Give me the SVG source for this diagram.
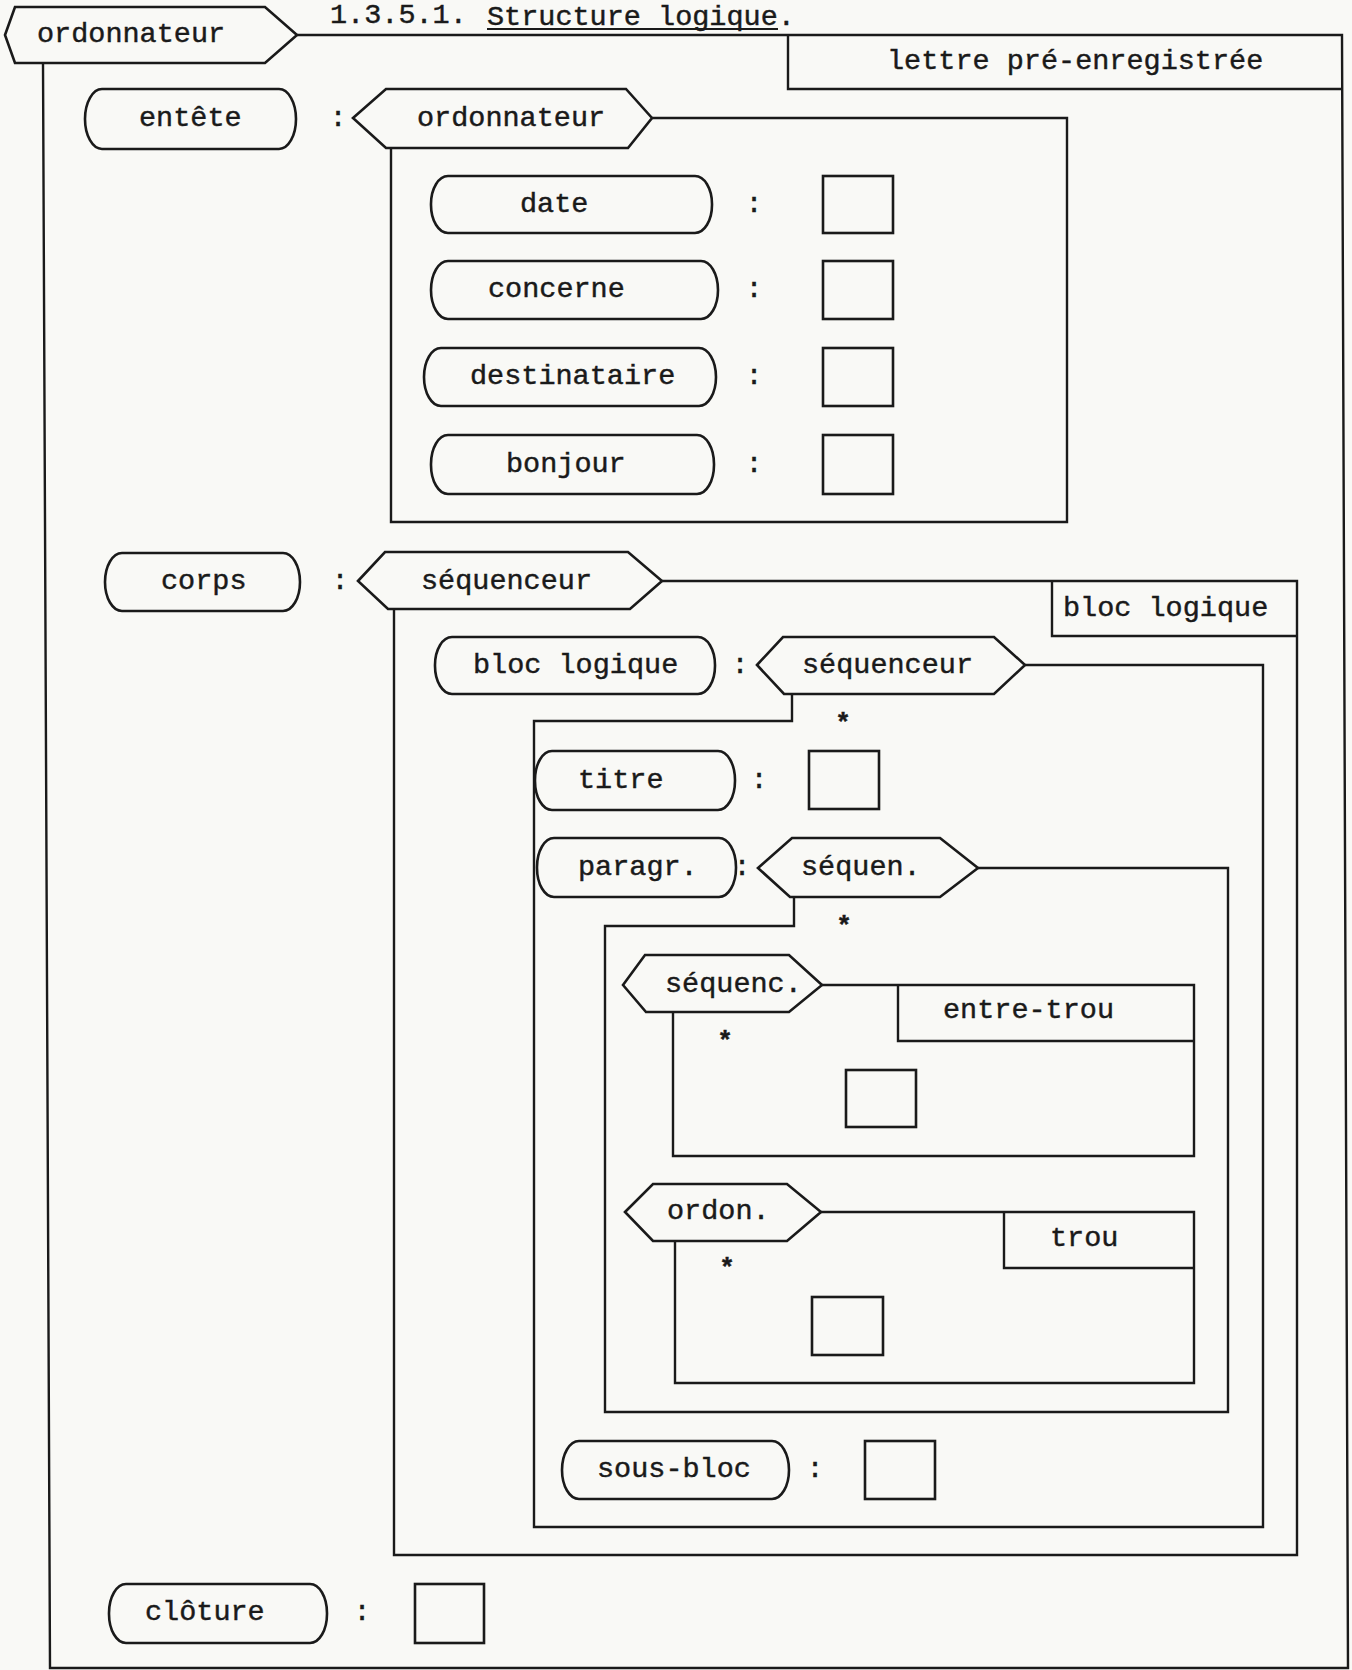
<svg xmlns="http://www.w3.org/2000/svg" width="1352" height="1670" viewBox="0 0 1352 1670">
<style>
text{font-family:"Liberation Mono","Courier New",monospace;font-size:28.5px;fill:#1a1a1a;stroke:#1a1a1a;stroke-width:0.45}
.ast{font-size:26px;font-weight:bold;text-anchor:middle}
.c{text-anchor:middle}
.s{fill:none;stroke:#1a1a1a;stroke-width:2.4;stroke-linejoin:miter}
.n{fill:none;stroke:#1a1a1a;stroke-width:2.6}
</style>
<rect width="1352" height="1670" fill="#f9f9f6"/>
<g id="title">
<text x="330" y="23">1.3.5.1.</text>
<text x="487" y="25">Structure logique.</text>
<line x1="487" y1="29" x2="778" y2="29" stroke="#1a1a1a" stroke-width="1.8"/>
</g>
<g id="connectors">
<path class="s" d="M297,35 H1342 L1348,1668 H50 L43,63"/>
<path class="s" d="M652,118 H1067 V522 H391 V148"/>
<path class="s" d="M662,581 H1297 V1555 H394 V609"/>
<path class="s" d="M1025,665 H1263 V1527 H534 V721 H792 V694"/>
<path class="s" d="M978,868 H1228 V1412 H605 V926 H794 V897"/>
<path class="s" d="M822,985 H1194 V1156 H673 V1012"/>
<path class="s" d="M821,1212 H1194 V1383 H675 V1241"/>
</g>
<g id="n-root">
<polygon class="n" points="5,35 15,7 265,7 297,35 265,63 15,63"/>
<text x="37" y="42">ordonnateur</text>
</g>
<g id="n-lettre">
<path class="s" d="M788,35 V89 H1342"/>
<text x="887" y="69">lettre pré-enregistrée</text>
</g>
<g id="n-entete">
<rect class="n" x="85" y="89" width="211" height="60" rx="17" ry="30"/>
<text x="139" y="126">entête</text>
<text class="c" x="338" y="126">:</text>
</g>
<g id="n-ordo2">
<polygon class="n" points="353,118 386,89 626,89 652,118 628,148 386,148"/>
<text x="417" y="126">ordonnateur</text>
</g>
<g id="n-date">
<rect class="n" x="431" y="176" width="281" height="57" rx="17" ry="28"/>
<text x="520" y="212">date</text>
<text class="c" x="754" y="212">:</text>
<rect class="n" x="823" y="176" width="70" height="57"/>
</g>
<g id="n-concerne">
<rect class="n" x="431" y="261" width="287" height="58" rx="17" ry="29"/>
<text x="488" y="297">concerne</text>
<text class="c" x="754" y="297">:</text>
<rect class="n" x="823" y="261" width="70" height="58"/>
</g>
<g id="n-destinataire">
<rect class="n" x="424" y="348" width="292" height="58" rx="17" ry="29"/>
<text x="470" y="384">destinataire</text>
<text class="c" x="754" y="384">:</text>
<rect class="n" x="823" y="348" width="70" height="58"/>
</g>
<g id="n-bonjour">
<rect class="n" x="431" y="435" width="283" height="59" rx="17" ry="29"/>
<text x="506" y="472">bonjour</text>
<text class="c" x="754" y="472">:</text>
<rect class="n" x="823" y="435" width="70" height="59"/>
</g>
<g id="n-corps">
<rect class="n" x="105" y="553" width="195" height="58" rx="17" ry="29"/>
<text x="161" y="589">corps</text>
<text class="c" x="340" y="589">:</text>
</g>
<g id="n-seq1">
<polygon class="n" points="358,581 385,552 628,552 662,581 630,609 388,609"/>
<text x="421" y="589">séquenceur</text>
</g>
<g id="n-bloclabel">
<path class="s" d="M1052,581 V636 H1297"/>
<text x="1063" y="616">bloc logique</text>
</g>
<g id="n-bloc">
<rect class="n" x="435" y="637" width="280" height="57" rx="17" ry="28"/>
<text x="473" y="673">bloc logique</text>
<text class="c" x="740" y="673">:</text>
</g>
<g id="n-seq2">
<polygon class="n" points="757,665 783,637 994,637 1025,665 994,694 784,694"/>
<text x="802" y="673">séquenceur</text>
<text class="ast" x="843" y="731">*</text>
</g>
<g id="n-titre">
<rect class="n" x="535" y="751" width="200" height="59" rx="17" ry="29"/>
<text x="578" y="788">titre</text>
<text class="c" x="759" y="788">:</text>
<rect class="n" x="809" y="751" width="70" height="58"/>
</g>
<g id="n-paragr">
<rect class="n" x="537" y="838" width="199" height="59" rx="17" ry="29"/>
<text x="578" y="875">paragr.</text>
<text class="c" x="742" y="875">:</text>
</g>
<g id="n-sequen">
<polygon class="n" points="758,868 792,838 940,838 978,868 940,897 790,897"/>
<text x="801" y="875">séquen.</text>
<text class="ast" x="844" y="934">*</text>
</g>
<g id="n-sequenc">
<polygon class="n" points="623,985 645,955 789,955 822,985 789,1012 646,1012"/>
<text x="665" y="992">séquenc.</text>
<text class="ast" x="725" y="1049">*</text>
<rect class="n" x="846" y="1070" width="70" height="57"/>
</g>
<g id="n-entretrou">
<path class="s" d="M898,985 V1041 H1194"/>
<text x="943" y="1018">entre-trou</text>
</g>
<g id="n-ordon">
<polygon class="n" points="625,1212 653,1184 787,1184 821,1212 787,1241 653,1241"/>
<text x="667" y="1219">ordon.</text>
<text class="ast" x="727" y="1276">*</text>
<rect class="n" x="812" y="1297" width="71" height="58"/>
</g>
<g id="n-trou">
<path class="s" d="M1004,1212 V1268 H1194"/>
<text x="1050" y="1246">trou</text>
</g>
<g id="n-sousbloc">
<rect class="n" x="562" y="1441" width="227" height="58" rx="17" ry="29"/>
<text x="597" y="1477">sous-bloc</text>
<text class="c" x="815" y="1477">:</text>
<rect class="n" x="865" y="1441" width="70" height="58"/>
</g>
<g id="n-cloture">
<rect class="n" x="109" y="1584" width="218" height="59" rx="17" ry="29"/>
<text x="145" y="1620">clôture</text>
<text class="c" x="362" y="1620">:</text>
<rect class="n" x="415" y="1584" width="69" height="59"/>
</g>
</svg>
